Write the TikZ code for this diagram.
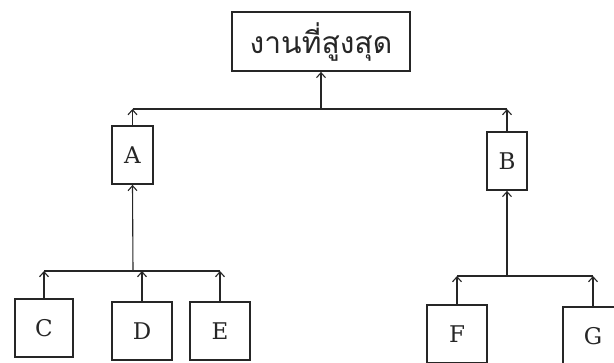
\documentclass[tikz,border=0pt]{standalone}
\usepackage{fontspec}
\setmainfont{DejaVu Serif}
\newfontfamily\thaifont[Script=Thai]{Loma}
\usetikzlibrary{arrows.meta}
\begin{document}
\begin{tikzpicture}[x=1pt,y=-1pt,
  box/.style={draw=black!85, line width=1.8pt, inner sep=0pt,
              font=\fontsize{23}{23}\selectfont, text=black!85},
  link/.style={draw=black!85, line width=1.1pt},
  arr/.style={link, -{Straight Barb[length=5pt,width=9pt,line width=1.1pt]}}]
\useasboundingbox (0,0) rectangle (614,363);
\clip (0,0) rectangle (614,363);

% boxes
\node[box, minimum width=178pt, minimum height=59pt,
      font=\thaifont\fontsize{30}{30}\selectfont] (top) at (321,41.5) {งานที่สูงสุด};
\node[box, minimum width=41pt, minimum height=58pt] (A) at (132.5,155) {A};
\node[box, minimum width=40pt, minimum height=58pt] (B) at (507,161) {B};
\node[box, minimum width=58pt, minimum height=58pt] (C) at (44,328) {C};
\node[box, minimum width=60pt, minimum height=58pt] (D) at (142,331) {D};
\node[box, minimum width=60pt, minimum height=58pt] (E) at (220,331) {E};
\node[box, minimum width=60pt, minimum height=58pt] (F) at (457,334) {F};
\node[box, minimum width=60pt, minimum height=58pt] (G) at (593,336) {G};

% junction points on the buses
\coordinate (j0) at (321,109);
\coordinate (j1) at (133,271);
\coordinate (j2) at (507,276);

% top level
\draw[arr] (j0) -- (top.south);
\draw[link] (A.north |- j0) -- (B.north |- j0);
\draw[arr] (A.north) -- (A.north |- j0);
\draw[arr] (B.north) -- (B.north |- j0);

% under A
\draw[arr] (j1) -- (A.south);
\draw[link] (C.north |- j1) -- (E.north |- j1);
\draw[arr] (C.north) -- (C.north |- j1);
\draw[arr] (D.north) -- (D.north |- j1);
\draw[arr] (E.north) -- (E.north |- j1);

% under B
\draw[arr] (j2) -- (B.south);
\draw[link] (F.north |- j2) -- (G.north |- j2);
\draw[arr] (F.north) -- (F.north |- j2);
\draw[arr] (G.north) -- (G.north |- j2);
\end{tikzpicture}
\end{document}
